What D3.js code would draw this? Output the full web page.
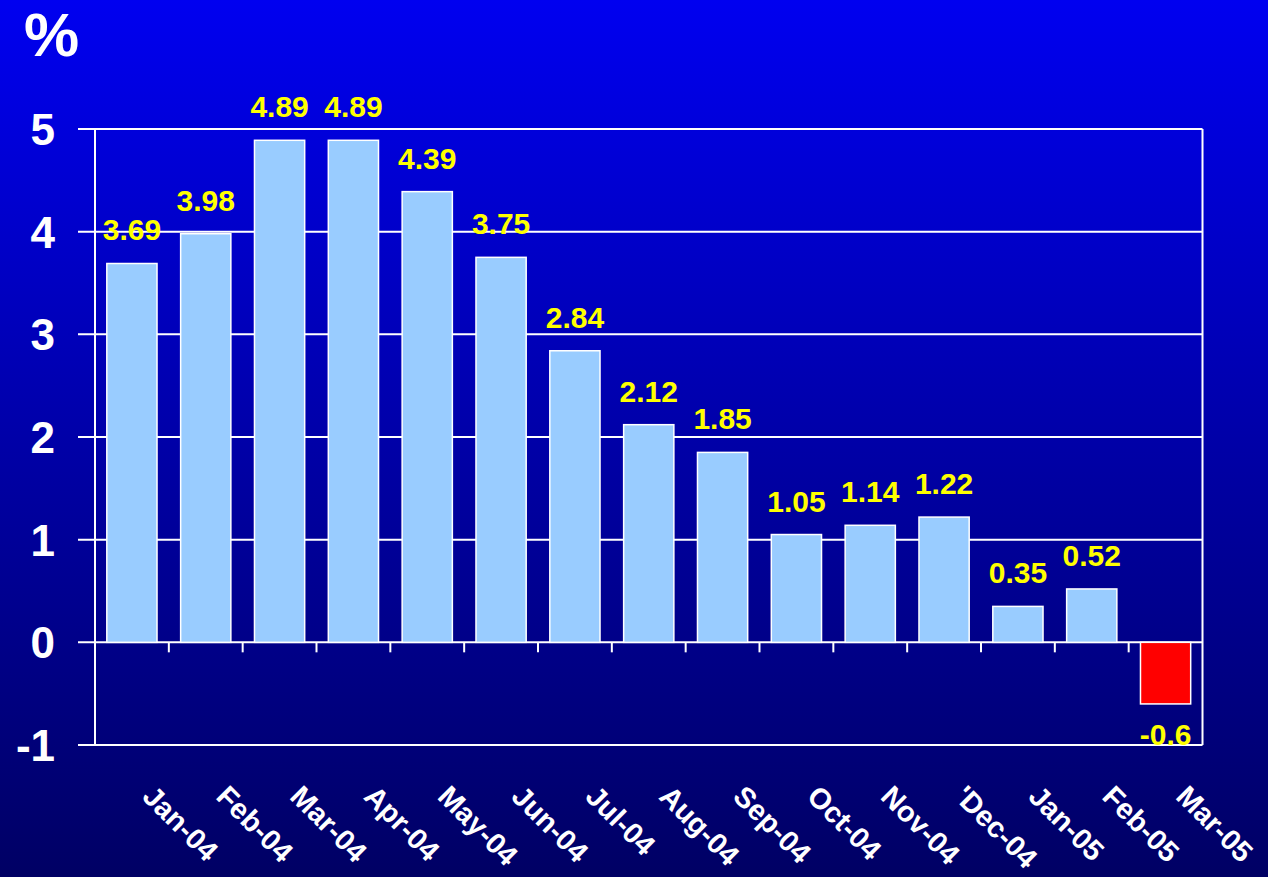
<!DOCTYPE html>
<html>
<head>
<meta charset="utf-8">
<script src="https://cdn.jsdelivr.net/npm/d3@7"></script>
<style>
  html, body { margin: 0; padding: 0; background: #000080; }
  svg { display: block; }
</style>
</head>
<body>
<svg id="chart" width="1268" height="877"></svg>
<script>
const categories = ["Jan-04","Feb-04","Mar-04","Apr-04","May-04","Jun-04","Jul-04","Aug-04","Sep-04","Oct-04","Nov-04","'Dec-04","Jan-05","Feb-05","Mar-05"];
const values = [3.69, 3.98, 4.89, 4.89, 4.39, 3.75, 2.84, 2.12, 1.85, 1.05, 1.14, 1.22, 0.35, 0.52, -0.6];
const valueLabels = ["3.69","3.98","4.89","4.89","4.39","3.75","2.84","2.12","1.85","1.05","1.14","1.22","0.35","0.52","-0.6"];
const yTicks = [-1, 0, 1, 2, 3, 4, 5];
const unitLabel = "%";

(function () {
const W = 1268, H = 877;
const pLeft = 95, pRight = 1202.5, pTop = 129, pBottom = 745;
const FONT = "'Liberation Sans', Arial, Helvetica, sans-serif";

const svg = d3.select("#chart");
const defs = svg.append("defs");
const grad = defs.append("linearGradient").attr("id", "bg").attr("x1", 0).attr("y1", 0).attr("x2", 0).attr("y2", 1);
grad.append("stop").attr("offset", "0%").attr("stop-color", "#0000f0");
grad.append("stop").attr("offset", "50%").attr("stop-color", "#0000a8");
grad.append("stop").attr("offset", "100%").attr("stop-color", "#000064");
svg.append("rect").attr("width", W).attr("height", H).attr("fill", "url(#bg)");

const x = d3.scaleBand().domain(categories).range([pLeft, pRight]).paddingInner(0.32).paddingOuter(0.16);
const y = d3.scaleLinear().domain([-1, 5]).range([pBottom, pTop]);

// gridlines
svg.append("g").selectAll("line").data(yTicks).join("line")
  .attr("x1", pLeft - 17).attr("x2", pRight)
  .attr("y1", d => y(d)).attr("y2", d => y(d))
  .attr("stroke", "#fff").attr("stroke-width", 2);

// axis lines
svg.append("line").attr("x1", pLeft).attr("x2", pLeft).attr("y1", pTop).attr("y2", pBottom)
  .attr("stroke", "#fff").attr("stroke-width", 2);
svg.append("line").attr("x1", pRight).attr("x2", pRight).attr("y1", pTop).attr("y2", pBottom)
  .attr("stroke", "#fff").attr("stroke-width", 2);

// category ticks below zero line
const step = x.step();
svg.append("g").selectAll("line").data(categories.slice(1)).join("line")
  .attr("x1", d => x(d) - step * x.paddingInner() / 2)
  .attr("x2", d => x(d) - step * x.paddingInner() / 2)
  .attr("y1", y(0)).attr("y2", y(0) + 10)
  .attr("stroke", "#fff").attr("stroke-width", 2);

// bars
svg.append("g").selectAll("rect").data(values).join("rect")
  .attr("x", (d, i) => x(categories[i]))
  .attr("width", x.bandwidth())
  .attr("y", d => y(Math.max(0, d)))
  .attr("height", d => Math.abs(y(d) - y(0)))
  .attr("fill", d => d < 0 ? "#ff0000" : "#99ccff")
  .attr("stroke", "#fff").attr("stroke-width", 1.5);

// value labels
svg.append("g").selectAll("text").data(values).join("text")
  .attr("x", (d, i) => x(categories[i]) + x.bandwidth() / 2)
  .attr("y", d => d < 0 ? y(d) + 41 : y(d) - 23)
  .attr("text-anchor", "middle")
  .attr("font-family", FONT).attr("font-weight", "bold").attr("font-size", 30)
  .attr("fill", "#ffff00")
  .text((d, i) => valueLabels[i]);

// y tick labels
svg.append("g").selectAll("text").data(yTicks).join("text")
  .attr("x", 55).attr("y", d => y(d))
  .attr("dy", "0.36em")
  .attr("text-anchor", "end")
  .attr("font-family", FONT).attr("font-weight", "bold").attr("font-size", 44)
  .attr("fill", "#fff")
  .text(d => d);

// x labels
svg.append("g").selectAll("text").data(categories).join("text")
  .attr("transform", d => `translate(${x(d) + x.bandwidth() / 2 + 9},${798}) rotate(45)`)
  .attr("font-family", FONT).attr("font-weight", "bold").attr("font-size", 29)
  .attr("fill", "#fff")
  .text(d => d);

// unit label
svg.append("text").attr("x", 24).attr("y", 56)
  .attr("font-family", FONT).attr("font-weight", "bold").attr("font-size", 62)
  .attr("fill", "#fff").text(unitLabel);
})();
</script>
</body>
</html>
